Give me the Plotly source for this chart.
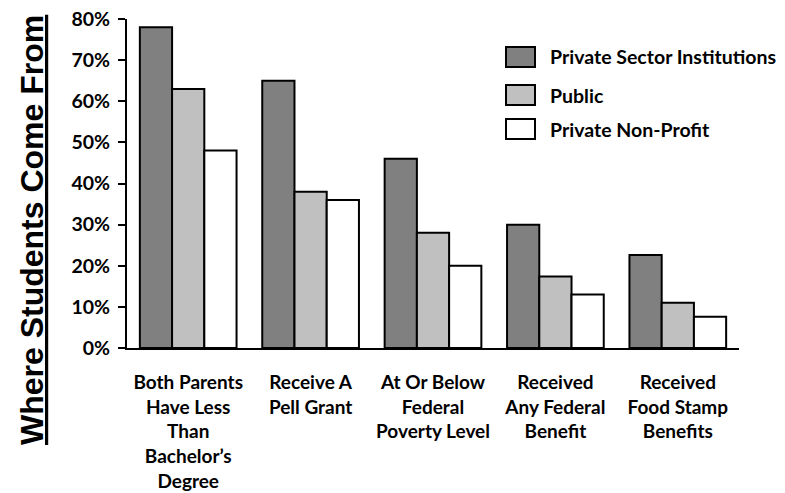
import plotly.graph_objects as go

# Share of students in each group, by sector
categories = [
    "Both Parents<br>Have Less<br>Than<br>Bachelor’s<br>Degree",
    "Receive A<br>Pell Grant",
    "At Or Below<br>Federal<br>Poverty Level",
    "Received<br>Any Federal<br>Benefit",
    "Received<br>Food Stamp<br>Benefits",
]
private_sector = [0.78, 0.65, 0.46, 0.30, 0.226]
public = [0.63, 0.38, 0.28, 0.174, 0.11]
private_nonprofit = [0.48, 0.36, 0.20, 0.13, 0.076]

series_names = ["Private Sector Institutions", "Public", "Private Non-Profit"]
series_values = [private_sector, public, private_nonprofit]
series_colors = ["#808080", "#c0c0c0", "#ffffff"]

W, H = 785, 493
ML, MR, MT, MB = 127, 46, 19, 145
PW, PH = W - ML - MR, H - MT - MB

LABEL_FONT = "Lato, Carlito, Calibri, sans-serif"
LABEL_SIZE = 19.5
CAT_SIZE = 19


def px_x(px):
    return (px - ML) / PW


def px_y(py):
    return (H - MB - py) / PH


fig = go.Figure()
for name, vals, color in zip(series_names, series_values, series_colors):
    fig.add_trace(go.Bar(
        x=categories, y=vals, name=name,
        marker=dict(color=color, line=dict(color="black", width=2)),
        showlegend=False,
    ))

# legend drawn as swatches + labels
legend_rows = [57, 95, 129]
for name, color, cy in zip(series_names, series_colors, legend_rows):
    fig.add_shape(type="rect", xref="paper", yref="paper",
                  x0=px_x(506), x1=px_x(535), y0=px_y(cy - 10), y1=px_y(cy + 10),
                  fillcolor=color, line=dict(color="black", width=2))
    fig.add_annotation(xref="paper", yref="paper", x=px_x(548), y=px_y(cy),
                       xanchor="left", yanchor="middle", showarrow=False,
                       text="<b>" + name + "</b>",
                       font=dict(family=LABEL_FONT, size=LABEL_SIZE, color="black"))

# rotated, underlined y-axis title
fig.add_annotation(xref="paper", yref="paper", x=px_x(32), y=px_y(230),
                   xanchor="center", yanchor="middle", showarrow=False,
                   textangle=-90, text="<b>Where Students Come From</b>",
                   font=dict(family="Liberation Sans, Arial, sans-serif", size=32,
                             color="black", lineposition="under"))

fig.update_layout(
    width=W, height=H,
    margin=dict(l=ML, r=MR, t=MT, b=MB, autoexpand=False),
    paper_bgcolor="white", plot_bgcolor="white",
    barmode="group", bargap=0.21, bargroupgap=0,
    font=dict(family=LABEL_FONT, color="black"),
    xaxis=dict(
        showline=True, linecolor="black", linewidth=2,
        ticks="", showgrid=False, ticklabelstandoff=16,
        tickfont=dict(family=LABEL_FONT, size=CAT_SIZE, color="black", weight="bold"),
    ),
    yaxis=dict(
        range=[0, 0.8], dtick=0.1, tickformat=".0%",
        showline=True, linecolor="black", linewidth=2,
        ticks="outside", ticklen=7, tickwidth=2, tickcolor="black",
        showgrid=False, zeroline=False, ticklabelstandoff=4,
        tickfont=dict(family=LABEL_FONT, size=LABEL_SIZE, color="black", weight="bold"),
    ),
)

fig.write_html("out.html")
